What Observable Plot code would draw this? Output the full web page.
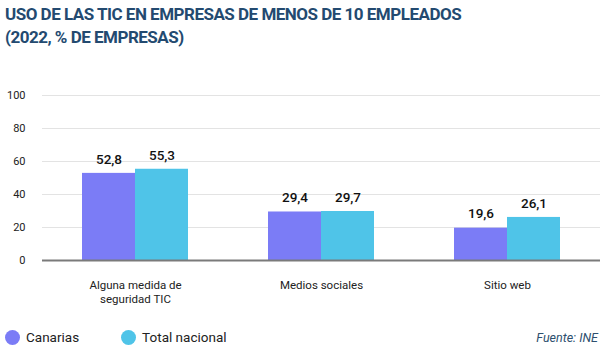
<!DOCTYPE html>
<html><head><meta charset="utf-8">
<script src="https://cdn.jsdelivr.net/npm/d3@7"></script>
<script src="https://cdn.jsdelivr.net/npm/@observablehq/plot@0.6"></script>
<style>
body{margin:0;background:#fff;font-family:Roboto,"Open Sans",sans-serif;}
#wrap{position:relative;width:606px;height:356px;overflow:hidden;}
#title{position:absolute;left:5px;top:3px;font-family:Roboto;font-weight:700;font-size:17px;line-height:23px;color:#234a70;letter-spacing:-0.5px;}
#chart{position:absolute;left:0;top:55px;}
#legend{position:absolute;left:5px;top:329px;font-size:13.5px;color:#222;display:flex;align-items:center;}
.sw{display:inline-block;width:15px;height:15px;border-radius:50%;margin-right:6px;}
.it{display:flex;align-items:center;margin-right:42px;}
#src{position:absolute;right:8px;top:330px;font-size:12.5px;font-style:italic;color:#2d4f6e;}
</style></head>
<body><div id="wrap">
<div id="title">USO DE LAS TIC EN EMPRESAS DE MENOS DE 10 EMPLEADOS<br>(2022, % DE EMPRESAS)</div>
<div id="chart"></div>
<div id="legend"></div>
<div id="src">Fuente: INE</div>
</div>
<script>
const categories = ["Alguna medida de\nseguridad TIC", "Medios sociales", "Sitio web"];
const series = ["Canarias", "Total nacional"];
const canarias = [52.8, 29.4, 19.6];
const totalNacional = [55.3, 29.7, 26.1];
const colors = ["#7b7cf6", "#4fc4e8"];
const yTicks = [0, 20, 40, 60, 80, 100];

const data = [];
categories.forEach((c, i) => {
  data.push({cat: c, serie: series[0], value: canarias[i]});
  data.push({cat: c, serie: series[1], value: totalNacional[i]});
});
const fmt = v => v.toFixed(1).replace(".", ",");

const plot = Plot.plot({
  width: 606, height: 255,
  marginLeft: 42, marginRight: 6, marginTop: 40, marginBottom: 50,
  style: {fontFamily: "Roboto, sans-serif", fontSize: "11px", color: "#222"},
  fx: {domain: categories, padding: 0, label: null, axis: null},
  x: {domain: series, paddingInner: 0, paddingOuter: 0.74, axis: null},
  y: {domain: [0, 100], axis: null},
  color: {domain: series, range: colors},
  marks: [
    Plot.gridY(yTicks, {stroke: "#e3e3e3", strokeOpacity: 1, strokeWidth: 1}),
    Plot.axisY(yTicks, {tickSize: 0, tickPadding: 17, fontSize: 11, tickFormat: d => d, label: null}),
    Plot.axisFx({anchor: "bottom", tickSize: 0, tickPadding: 18, fontSize: 11.5, label: null, lineHeight: 1.25}),
    Plot.barY(data, {fx: "cat", x: "serie", y: "value", fill: "serie"}),
    Plot.ruleY([0], {stroke: "#7a7a7a", strokeWidth: 2}),
    Plot.text(data, {fx: "cat", x: "serie", y: "value", text: d => fmt(d.value), dy: -14, fontSize: 13.5, fontWeight: 500, fill: "#111"})
  ]
});
document.getElementById("chart").appendChild(plot);

const lg = document.getElementById("legend");
series.forEach((s, i) => {
  const it = document.createElement("div");
  it.className = "it";
  it.innerHTML = `<span class="sw" style="background:${colors[i]}"></span><span>${s}</span>`;
  lg.appendChild(it);
});
</script>
</body></html>
